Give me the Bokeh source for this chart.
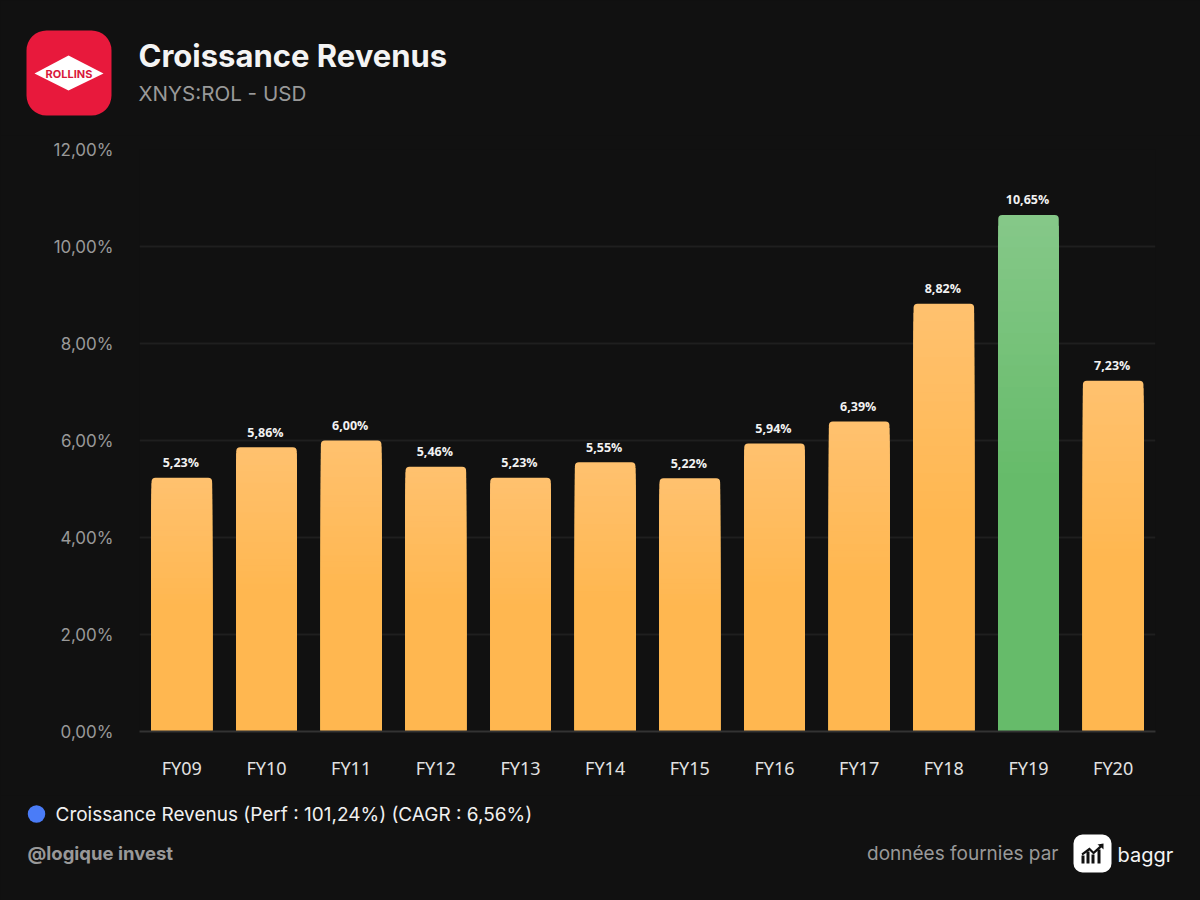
from bokeh.embed import file_html
from bokeh.resources import INLINE
from bokeh.plotting import figure
from bokeh.layouts import column
from bokeh.core.properties import value
from bokeh.models import FactorRange, Range1d, FixedTicker

categories = ["FY09", "FY10", "FY11", "FY12", "FY13", "FY14", "FY15", "FY16", "FY17", "FY18", "FY19", "FY20"]
growth = [5.23, 5.86, 6.00, 5.46, 5.23, 5.55, 5.22, 5.94, 6.39, 8.82, 10.65, 7.23]
highlight = "FY19"
y_ticks = [0, 2, 4, 6, 8, 10, 12]
y_tick_labels = ["0,00%", "2,00%", "4,00%", "6,00%", "8,00%", "10,00%", "12,00%"]

TITLE = "Croissance Revenus"
SUBTITLE = "XNYS:ROL - USD"
LEGEND = "Croissance Revenus (Perf : 101,24%) (CAGR : 6,56%)"
HANDLE = "@logique invest"
SOURCE = "données fournies par"

BG = "#111111"
ORANGE = ((255, 193, 110), (255, 183, 80))
GREEN = ((133, 200, 136), (102, 187, 106))
FONT = "Inter"
L, R, T, B = 139, 1155, 149, 731   # frame edges in page pixels
Y0, Y1 = 135, 795                  # vertical extent of the chart figure


def strip(y0, y1):
    """A figure whose data units are page pixels, for the header and the footer."""
    f = figure(width=1200, height=y1 - y0, output_backend="svg", toolbar_location=None,
               x_range=Range1d(1, 1201), y_range=Range1d(y1, y0), x_axis_type=None, y_axis_type=None,
               min_border=0, frame_align=False,
               background_fill_color=BG, border_fill_color=BG, outline_line_color=None)
    f.grid.visible = False
    return f


def box(f, x0, y0, x1, y1, color, radius=0):
    f.quad(left=[x0], right=[x1], top=[y0], bottom=[y1], fill_color=color, line_color=None, border_radius=radius)


def label(f, x, y, s, size, color, font=FONT, style="normal", align="left"):
    f.text(x=[x], y=[y], text=[s], text_font=value(font), text_font_size=value(size), text_color=color,
           text_font_style=style, text_align=align, text_baseline="middle")


# ---- header
head = strip(0, Y0)
box(head, 27, 30, 112, 115, "#e8193c", 20)
head.patch(x=[35, 69, 104, 69], y=[73, 55, 73, 90], fill_color="#ffffff", line_color=None)
label(head, 69.5, 73, "ROLLINS", "11px", "#d9183b", style="bold", align="center")
label(head, 139, 55, TITLE, "31px", "#f4f4f4", style="bold")
label(head, 139, 93, SUBTITLE, "20.6px", "#999999")

# ---- chart
p = figure(width=1200, height=Y1 - Y0, output_backend="svg", toolbar_location=None,
           x_range=FactorRange(factors=categories, range_padding=0),
           y_range=Range1d(0, 12), frame_align=False,
           min_border_left=L, min_border_right=1200 - R,
           min_border_top=T - Y0, min_border_bottom=Y1 - B,
           background_fill_color=BG, border_fill_color=BG, outline_line_color=None)

p.yaxis.ticker = FixedTicker(ticks=y_ticks)
p.yaxis.major_label_overrides = dict(zip(y_ticks, y_tick_labels))
p.yaxis.major_label_text_font = FONT
p.yaxis.major_label_text_font_size = "17px"
p.yaxis.major_label_text_color = "#999999"
p.yaxis.major_label_standoff = 20
p.yaxis.major_tick_line_color = None
p.yaxis.minor_tick_line_color = None
p.yaxis.axis_line_color = None

p.xaxis.major_label_text_font = "Noto Sans"
p.xaxis.major_label_text_font_size = "18px"
p.xaxis.major_label_text_color = "#e2e2e2"
p.xaxis.major_label_standoff = 18
p.xaxis.major_tick_line_color = None
p.xaxis.axis_line_color = "#333333"
p.xaxis.axis_line_width = 2

p.xgrid.grid_line_color = None
p.ygrid.grid_line_color = "#1f1f1f"
p.ygrid.grid_line_width = 2

BAR_W = 0.715
STEPS = 24


def mix(pair, t):
    return "#%02x%02x%02x" % tuple(round(a + (b - a) * t) for a, b in zip(*pair))


pal = [GREEN if c == highlight else ORANGE for c in categories]
p.vbar(x=categories, top=growth, bottom=0, width=BAR_W, line_color=None,
       fill_color=[mix(q, 0) for q in pal], border_radius=(4, 4, 0, 0))

xs, tops, cols = [], [], []
for c, v, q in zip(categories, growth, pal):
    for k in range(1, STEPS + 1):
        xs.append(c)
        tops.append(v * (1 - 0.5 * k / STEPS))
        cols.append(mix(q, k / STEPS))
p.vbar(x=xs, top=tops, bottom=0, width=BAR_W, line_color=None, fill_color=cols,
       border_radius=(0, 0, 1, 1))

value_labels = [f"{v:.2f}%".replace(".", ",") for v in growth]
p.text(x=categories, y=growth, text=value_labels, text_font=value("Open Sans"),
       text_font_style="bold", text_font_size=value("12.5px"), text_color="#f2f2f2",
       text_align="center", text_baseline="middle", x_offset=-1, y_offset=-15)

# ---- footer
foot = strip(Y1, 900)
foot.scatter(x=[37], y=[813.5], size=17.5, marker="circle", fill_color="#4a7cf7", line_color=None)
label(foot, 56, 813.5, LEGEND, "19px", "#f0f0f0")
label(foot, 28, 852.5, HANDLE, "18.5px", "#999999", style="bold")
label(foot, 1059, 853, SOURCE, "19px", "#999999", align="right")
box(foot, 1074, 834, 1112, 872, "#ffffff", 9)
for x0, x1, y0 in [(1082, 1085, 855), (1087, 1090, 851), (1092, 1095, 854), (1098, 1101, 849)]:
    box(foot, x0, y0, x1, 863, "#111111")
foot.patch(x=[1082, 1090, 1094, 1100, 1098, 1104, 1104, 1102, 1094, 1090, 1083],
           y=[853, 847, 851, 845.5, 844, 843, 849, 847, 854, 850, 855], fill_color="#111111", line_color=None)
label(foot, 1118, 854, "baggr", "20px", "#f4f4f4")

html = file_html(column(head, p, foot), INLINE)
html = html.replace("<head>", f"<head><style>html,body{{background:{BG};overflow:hidden}}</style>", 1)
open("out.html", "w").write(html)
